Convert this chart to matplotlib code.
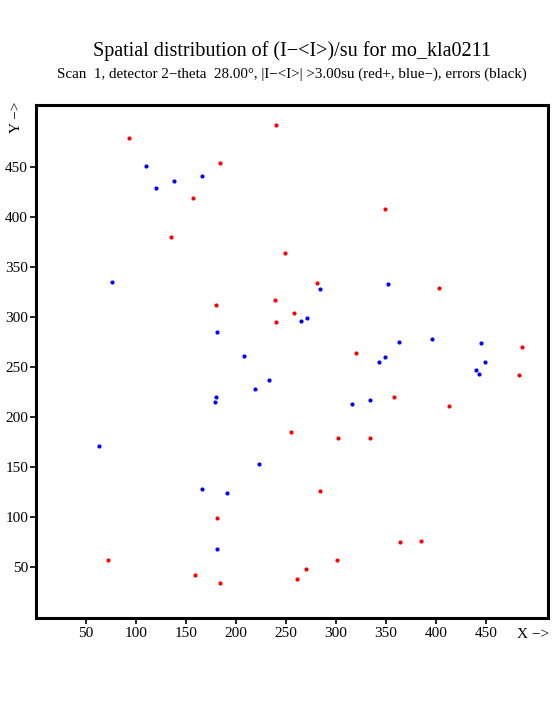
"""Spatial distribution of outlier reflections on the detector."""

import matplotlib

matplotlib.use("Agg")
import matplotlib.pyplot as plt

# positive deviations (red)
pos_x = [93, 240, 184, 157, 135, 249, 349, 180, 239, 240, 255, 281, 258,
         403, 320, 486, 483, 358, 413, 302, 334, 181, 72, 159, 184,
         284, 364, 385, 301, 270, 261]
pos_y = [479, 492, 454, 419, 380, 364, 408, 312, 317, 295, 185, 334, 304,
         329, 264, 270, 242, 220, 211, 179, 179, 99, 57, 42, 34,
         126, 75, 76, 57, 48, 38]

# negative deviations (blue)
neg_x = [110, 138, 166, 120, 76, 181, 208, 233, 219, 180, 179, 63, 284,
         352, 271, 265, 363, 396, 445, 349, 343, 449, 440, 443, 334, 316,
         223, 166, 191, 181]
neg_y = [451, 436, 441, 429, 335, 285, 261, 237, 228, 220, 215, 171, 328,
         333, 299, 296, 275, 278, 274, 260, 255, 255, 247, 243, 217, 213,
         153, 128, 124, 68]

X_TICKS = [50, 100, 150, 200, 250, 300, 350, 400, 450]
Y_TICKS = [50, 100, 150, 200, 250, 300, 350, 400, 450]

plt.rcParams["font.family"] = ["Liberation Serif", "DejaVu Serif"]


def main() -> None:
    fig = plt.figure(figsize=(5.55, 7.25), dpi=100)
    ax = fig.add_axes([35.7 / 555, (725 - 617.5) / 725, 512 / 555, 512.5 / 725])

    ax.plot(pos_x, pos_y, "o", color="red", markersize=3.0, markeredgewidth=0)
    ax.plot(neg_x, neg_y, "o", color="blue", markersize=3.0, markeredgewidth=0)

    ax.set_xlim(0, 512)
    ax.set_ylim(0, 512)
    ax.set_xticks(X_TICKS)
    ax.set_yticks(Y_TICKS)
    ax.tick_params(direction="out", length=4, width=1.2, labelsize=11,
                   top=False, right=False)
    ax.tick_params(axis="x", pad=3)
    ax.tick_params(axis="y", pad=1.5)
    for spine in ax.spines.values():
        spine.set_linewidth(2.2)

    cx = 292 / 555
    fig.text(cx, 1 - 51 / 725, "Spatial distribution of (I\u2212<I>)/su for mo_kla0211",
             ha="center", va="center", fontsize=14.5)
    fig.text(cx, 1 - 74 / 725,
             "Scan  1, detector 2\u2212theta  28.00\u00b0, |I\u2212<I>| >3.00su "
             "(red+, blue\u2212), errors (black)",
             ha="center", va="center", fontsize=10.8)
    fig.text(533 / 555, 1 - 634 / 725, "X \u2212>", ha="center", va="center", fontsize=11)
    fig.text(16 / 555, 1 - 117 / 725, "Y \u2212>", ha="center", va="center",
             fontsize=11, rotation=90)

    fig.savefig("out.png", dpi=100)
    plt.close(fig)


if __name__ == "__main__":
    main()
